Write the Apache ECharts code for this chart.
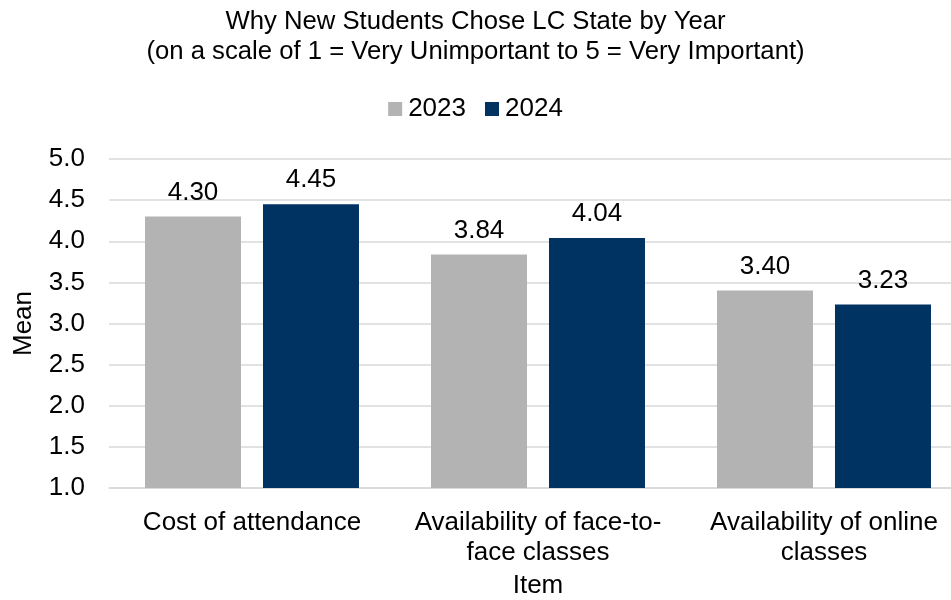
<!DOCTYPE html>
<html><head><meta charset="utf-8">
<script src="https://cdn.jsdelivr.net/npm/echarts@6/dist/echarts.min.js"></script>
<style>html,body{margin:0;padding:0;background:#fff}#c{width:951px;height:600px}</style>
</head><body><div id="c"></div>
<script>
const categories = ["Cost of attendance", "Availability of face-to-face classes", "Availability of online classes"];
const seriesNames = ["2023", "2024"];
const values2023 = [4.30, 3.84, 3.40];
const values2024 = [4.45, 4.04, 3.23];
const yTicks = [1.0, 1.5, 2.0, 2.5, 3.0, 3.5, 4.0, 4.5, 5.0];

function wrap(s, maxChars) {
  const tokens = s.split(/(?<=-)|\s+/).filter(t => t.length);
  const lines = []; let cur = '';
  for (const t of tokens) {
    const join = cur === '' ? t : (cur.endsWith('-') ? cur + t : cur + ' ' + t);
    if (join.length > maxChars && cur !== '') { lines.push(cur); cur = t; }
    else cur = join;
  }
  if (cur) lines.push(cur);
  return lines.join('\n');
}

const FONT = '"Liberation Sans", Arial, sans-serif';
const FS = 26;
const chart = echarts.init(document.getElementById('c'), null, {renderer: 'canvas'});
chart.setOption({
  animation: false,
  textStyle: {fontFamily: FONT},
  title: {
    text: 'Why New Students Chose LC State by Year\n(on a scale of 1 = Very Unimportant to 5 = Very Important)',
    left: 'center', top: 2,
    textStyle: {fontFamily: FONT, fontSize: 25.7, fontWeight: 'normal', color: '#000', lineHeight: 30}
  },
  legend: {
    top: 91, left: 'center', itemWidth: 14, itemHeight: 14, itemGap: 19,
    icon: 'rect',
    textStyle: {fontFamily: FONT, fontSize: FS, color: '#000', padding: [0, 0, 0, 1]},
    data: seriesNames
  },
  grid: {left: 109, width: 858, top: 159, height: 329, containLabel: false, outerBoundsMode: 'none'},
  xAxis: {
    type: 'category', data: categories,
    axisLine: {show: true, lineStyle: {color: '#d9d9d9', width: 1.5}},
    axisTick: {show: false},
    axisLabel: {fontFamily: FONT, fontSize: FS, color: '#000', margin: 20, lineHeight: 30,
      interval: 0, hideOverlap: false, formatter: v => wrap(v, 24)},
    name: 'Item', nameLocation: 'middle', nameGap: 85,
    nameTextStyle: {fontFamily: FONT, fontSize: FS, color: '#000'}
  },
  yAxis: {
    type: 'value', min: yTicks[0], max: yTicks[yTicks.length - 1], interval: 0.5,
    axisLine: {show: false}, axisTick: {show: false},
    splitLine: {lineStyle: {color: '#d9d9d9', width: 1.5}},
    axisLabel: {fontFamily: FONT, fontSize: FS, color: '#000', margin: 24, formatter: v => v.toFixed(1)},
    name: 'Mean', nameLocation: 'middle', nameGap: 72, nameRotate: 90,
    nameTextStyle: {fontFamily: FONT, fontSize: FS, color: '#000'}
  },
  series: [
    {name: seriesNames[0], type: 'bar', data: values2023, barWidth: 96, barGap: '22.9%',
     itemStyle: {color: '#b3b3b3'},
     label: {show: true, position: 'top', distance: 11, fontFamily: FONT, fontSize: FS, color: '#000',
       formatter: p => p.value.toFixed(2)}},
    {name: seriesNames[1], type: 'bar', data: values2024, barWidth: 96, barGap: '22.9%',
     itemStyle: {color: '#003262'},
     label: {show: true, position: 'top', distance: 11, fontFamily: FONT, fontSize: FS, color: '#000',
       formatter: p => p.value.toFixed(2)}}
  ]
});
</script></body></html>
